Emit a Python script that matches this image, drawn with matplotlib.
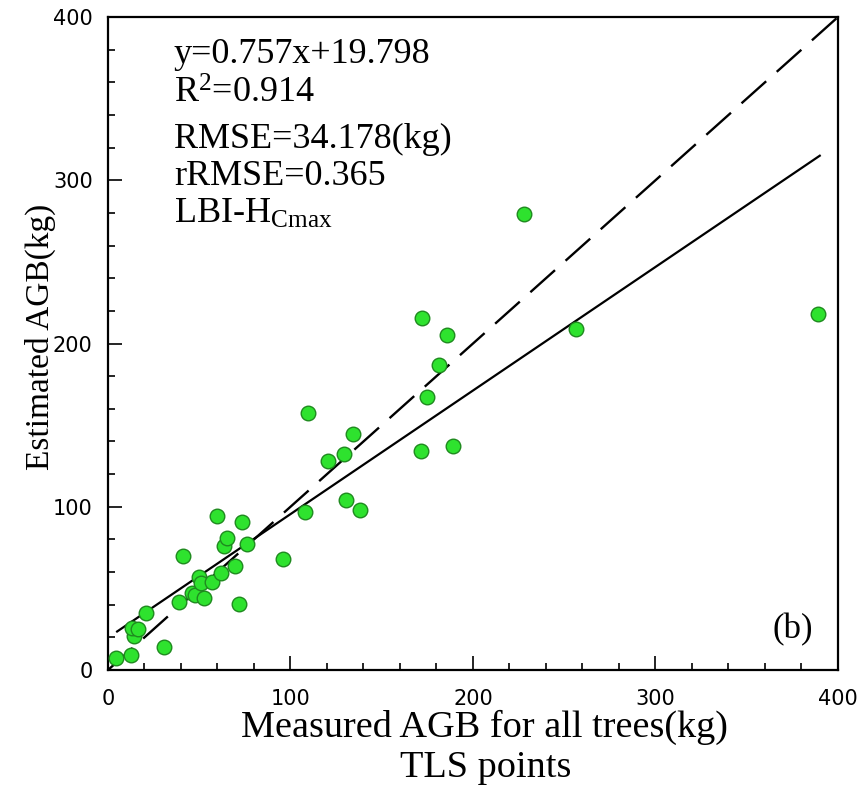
import matplotlib
matplotlib.use("Agg")
import matplotlib.pyplot as plt
from matplotlib.ticker import MultipleLocator

# ---- data ----
measured = [4.4, 12.6, 14.2, 13.2, 16.4, 20.8, 30.7, 38.9, 41.1, 46.0,
            47.7, 49.9, 51.0, 52.6, 57.0, 61.9, 59.7, 63.6, 65.2, 69.6,
            71.8, 73.4, 76.2, 95.9, 107.9, 109.6, 120.5, 129.3, 130.4, 134.2,
            138.1, 171.5, 172.0, 174.8, 181.4, 185.8, 189.0, 228.0, 256.4, 389.0]
estimated = [7.4, 9.2, 20.8, 25.7, 25.1, 34.9, 14.1, 41.7, 69.8, 47.2,
             45.9, 57.0, 53.3, 44.1, 53.9, 59.4, 94.3, 76.0, 80.9, 63.7,
             40.4, 90.7, 77.2, 68.0, 96.8, 157.4, 128.0, 132.3, 104.1, 144.6,
             98.0, 134.2, 215.6, 167.2, 186.8, 205.2, 137.2, 279.3, 208.9, 218.1]
slope = 0.757
intercept = 19.798
fit_range = [5, 390]
one_to_one = [0, 400]
stats_lines = ["y=0.757x+19.798", r"R$^{2}$=0.914", "RMSE=34.178(kg)",
               "rRMSE=0.365", r"LBI-H$_{\mathrm{Cmax}}$"]
ticks = [0, 100, 200, 300, 400]
xlabel = "Measured AGB for all trees(kg)"
xlabel2 = "TLS points"
ylabel = "Estimated AGB(kg)"
panel = "(b)"

plt.rcParams['mathtext.fontset'] = 'custom'
plt.rcParams['mathtext.rm'] = 'Liberation Serif'
plt.rcParams['mathtext.it'] = 'Liberation Serif:italic'

W, H = 862, 790
fig = plt.figure(figsize=(W / 100, H / 100), dpi=100)
ax = fig.add_axes([108 / W, 120 / H, 730 / W, 653 / H])

# 1:1 dashed line
ax.plot(one_to_one, one_to_one, color='black', lw=1.7, dashes=(14, 6),
        solid_capstyle='butt', zorder=2)
# regression line
fx = fit_range
fy = [slope * v + intercept for v in fx]
ax.plot(fx, fy, color='black', lw=1.6, zorder=2)

ax.scatter(measured, estimated, s=110, facecolor='#2ee22e',
           edgecolor='#1f8a1f', linewidth=1.0, zorder=3)

ax.set_xlim(0, 400)
ax.set_ylim(0, 400)
ax.set_xticks(ticks)
ax.set_yticks(ticks)
ax.xaxis.set_minor_locator(MultipleLocator(20))
ax.yaxis.set_minor_locator(MultipleLocator(20))
ax.tick_params(which='both', direction='in', top=False, right=False,
               width=1.2, color='black')
ax.tick_params(which='major', length=10)
ax.tick_params(which='minor', length=5)
ax.tick_params(axis='x', which='major', pad=14)
ax.tick_params(axis='y', which='major', pad=11)
for lab in ax.get_xticklabels() + ax.get_yticklabels():
    lab.set_fontfamily('DejaVu Sans')
    lab.set_fontsize(15)
for sp in ax.spines.values():
    sp.set_linewidth(1.6)

# stats text
baselines = [63, 103, 148, 185, 223]
for t, b in zip(stats_lines, baselines):
    fig.text(174 / W, 1 - b / H, t, family='Liberation Serif', fontsize=26,
             ha='left', va='baseline')

fig.text(793 / W, 1 - 638 / H, panel, family='Liberation Serif', fontsize=25,
         ha='center', va='baseline')

fig.text(484 / W, 1 - 737 / H, xlabel, family='Liberation Serif', fontsize=27.5,
         ha='center', va='baseline')
fig.text(486 / W, 1 - 777 / H, xlabel2, family='Liberation Serif', fontsize=27.5,
         ha='center', va='baseline')
fig.text(40 / W, 1 - 337 / H, ylabel, family='Liberation Serif', fontsize=24,
         ha='center', va='center', rotation=90)

fig.savefig("out.png", dpi=100)
